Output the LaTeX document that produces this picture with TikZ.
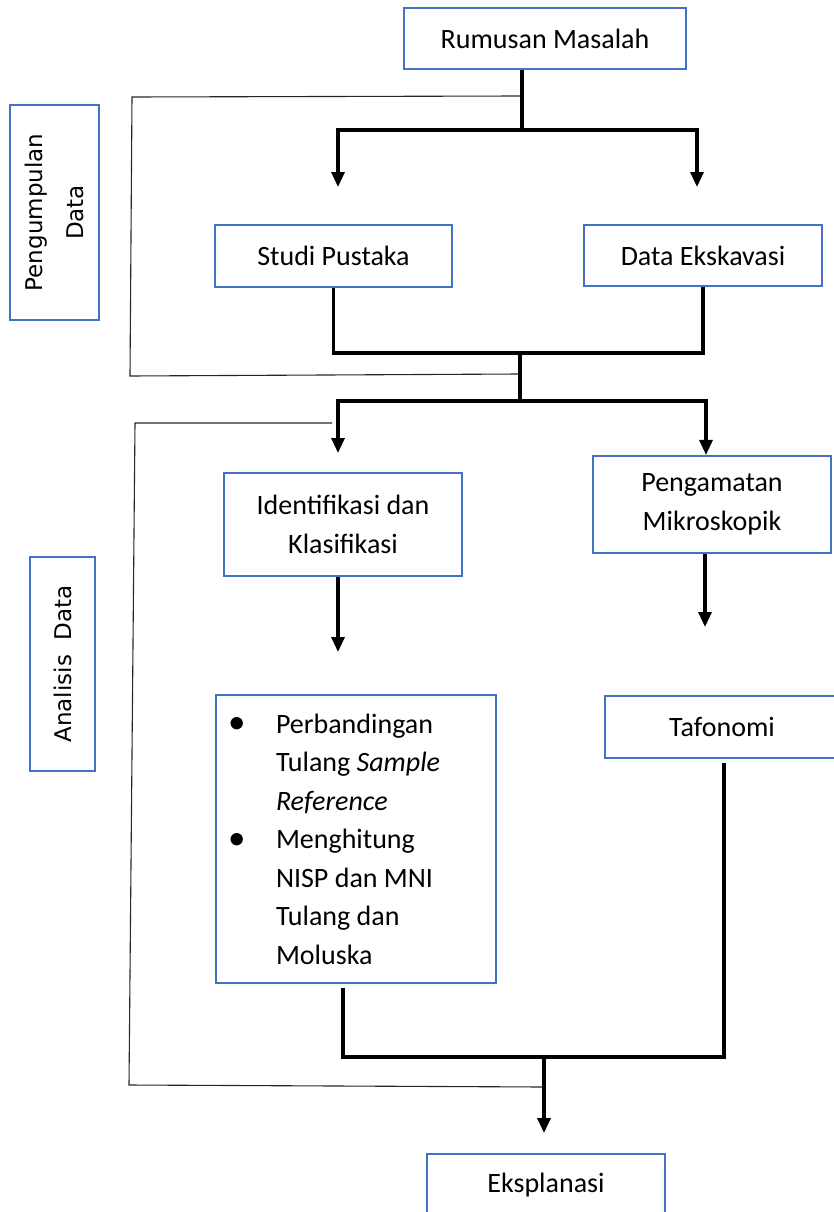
\documentclass[tikz,border=0pt]{standalone}
\usepackage{fontspec}
\setmainfont{Carlito}
\newfontfamily\labelfont{DejaVu Sans}
\usetikzlibrary{arrows.meta}
\definecolor{boxblue}{RGB}{68,114,196}
\newcommand{\bul}{\makebox[49pt][l]{\hspace*{1pt}\raisebox{-0.5pt}{\scalebox{1.25}{\textbullet}}}}
\newcommand{\ind}{\hspace*{49pt}}
\begin{document}
\begin{tikzpicture}[x=1pt,y=-1pt,
  box/.style={draw=boxblue, line width=2.2pt, inner sep=0pt, align=center,
    font=\fontsize{28}{38.5}\selectfont,
    execute at begin node={\spaceskip=0pt\xspaceskip=0pt}},
  side/.style={draw=boxblue, line width=2.2pt, inner sep=0pt, rotate=90, align=center,
    font=\labelfont\fontsize{23}{41}\selectfont},
  thickline/.style={line width=3.2pt},
  arr/.style={line width=3.2pt, -{Triangle[width=13pt,length=15pt]}},
  thinline/.style={line width=1.1pt, black!85}
]
\useasboundingbox (0,0) rectangle (833,1212);

% nodes
\node[box, minimum width=282pt, minimum height=61pt] (rum) at (545,38.5) {Rumusan Masalah};
\node[side, minimum width=215pt, minimum height=89pt] (pd) at (54.5,212.5) {Pengumpulan\\Data};
\node[box, minimum width=237pt, minimum height=62pt] (studi) at (333.5,256) {Studi Pustaka};
\node[box, minimum width=238pt, minimum height=61pt] (data) at (703,255.5) {Data Ekskavasi};
\node[box, minimum width=238pt, minimum height=103pt] (ident) at (343,524.5) {Identifikasi dan\\Klasifikasi};
\node[box, minimum width=238pt, minimum height=97pt] (peng) at (712,504.5) {Pengamatan\\Mikroskopik};
\node[side, minimum width=214pt, minimum height=65pt] (ad) at (62.5,664) {Analisis\ \ Data};
\node[box, minimum width=280pt, minimum height=288pt, text width=258pt, align=left] (perb) at (356,839)
  {\mbox{\bul Perbandingan}\\
   \mbox{\ind Tulang \textit{Sample}}\\
   \mbox{\ind\textit{Reference}}\\
   \mbox{\bul Menghitung}\\
   \mbox{\ind NISP dan MNI}\\
   \mbox{\ind Tulang dan}\\
   \mbox{\ind Moluska}};
\node[box, minimum width=234pt, minimum height=62pt] (taf) at (722,727) {Tafonomi};
\node[box, minimum width=238pt, minimum height=62pt] (eks) at (546,1185) {Eksplanasi};

% coordinates
\coordinate (p1) at (521,96);
\coordinate (p2) at (132,97);
\coordinate (p3) at (130,376);
\coordinate (p4) at (520,374);
\coordinate (q1) at (332,423);
\coordinate (q2) at (135,423);
\coordinate (q3) at (129,1085);
\coordinate (q4) at (544,1087);
\coordinate (j1) at (522,130);
\coordinate (a1) at (338,187);
\coordinate (a2) at (697,187);
\coordinate (j2) at (520,353);
\coordinate (j3) at (520,401);
\coordinate (b1) at (338,453);
\coordinate (b2) at (706,401);
\coordinate (c1) at (338,652);
\coordinate (c2) at (705,627);
\coordinate (d1) at ([xshift=-13pt,yshift=-4pt]perb.south);
\coordinate (d2) at (724,763);
\coordinate (j4) at (544,1057);
\coordinate (e1) at (544,1133);

% thin brackets
\draw[thinline] (p1) -- (p2) -- (p3) -- (p4);
\draw[thinline] (q1) -- (q2) -- (q3) -- (q4);

% thick connectors
\draw[thickline] (rum.south -| j1) -- (j1);
\draw[arr] (j1) -| (a1);
\draw[arr] (j1) -| (a2);
\draw[thickline] (studi.south) |- (data.south |- j2) -- (data.south);
\draw[thickline] (j2) -- (j3);
\draw[arr] (j3) -| (b1);
\draw[arr] (j3) -| (b2 |- peng.north);
\draw[arr] (c1 |- ident.south) -- (c1);
\draw[arr] (c2 |- peng.south) -- (c2);
\draw[thickline] (d1) |- (d2 |- j4) -- (d2);
\draw[arr] (j4) -- (e1);
\end{tikzpicture}
\end{document}
